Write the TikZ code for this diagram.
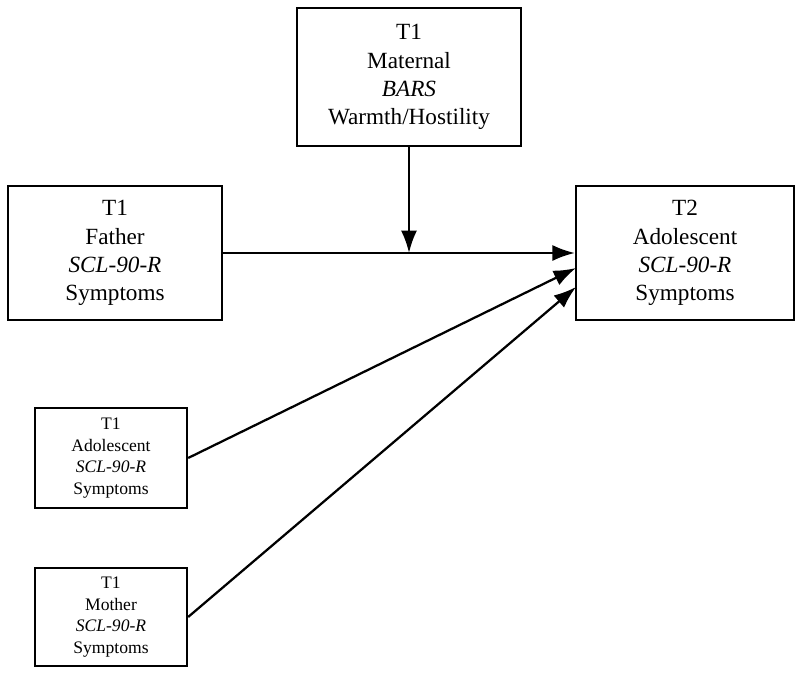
\documentclass[tikz,border=0pt]{standalone}
\usepackage{fontspec}
\setmainfont{Liberation Serif}
\usetikzlibrary{arrows.meta}

\begin{document}
\begin{tikzpicture}[x=0.025cm,y=-0.025cm,
  bigbox/.style={draw,line width=1.6pt,align=center,inner sep=0pt,font=\fontsize{16.5}{20}\selectfont},
  smallbox/.style={draw,line width=1.6pt,align=center,inner sep=0pt,font=\fontsize{12.5}{15.5}\selectfont,minimum width=3.8cm},
  path/.style={line width=1.6pt,-{Latex[length=5.6mm,width=4mm]}}]
  \useasboundingbox (0,0) rectangle (800,676);

  % Boxes
  \node[bigbox,minimum width=5.6cm,minimum height=3.45cm] (bars) at (409,77) {T1\\Maternal\\\textit{BARS}\\Warmth/Hostility};
  \node[bigbox,minimum width=5.35cm,minimum height=3.35cm] (father) at (115,253) {T1\\Father\\\textit{SCL-90-R}\\Symptoms};
  \node[bigbox,minimum width=5.45cm,minimum height=3.35cm] (adoltwo) at (685,253) {T2\\Adolescent\\\textit{SCL-90-R}\\Symptoms};
  \node[smallbox,minimum height=2.5cm] (adolone) at (111,458) {T1\\Adolescent\\\textit{SCL-90-R}\\Symptoms};
  \node[smallbox,minimum height=2.45cm] (mother) at (111,617) {T1\\Mother\\\textit{SCL-90-R}\\Symptoms};

  % Paths
  \coordinate (mod) at (409,253);
  \coordinate (inA) at (576,268);
  \coordinate (inB) at (576,287);
  \draw[path] (father.east) -- (adoltwo.west);
  \draw[path] (bars.south) -- (mod);
  \draw[path] (adolone.east) -- (inA);
  \draw[path] (mother.east) -- (inB);
\end{tikzpicture}
\end{document}
